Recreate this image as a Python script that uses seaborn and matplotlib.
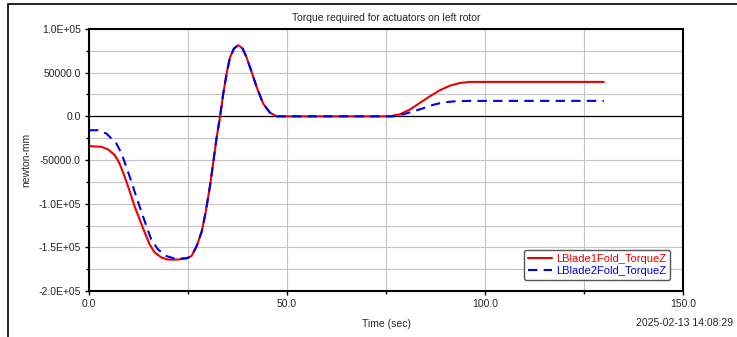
import matplotlib
matplotlib.use('Agg')
import matplotlib.pyplot as plt
from matplotlib.patches import Rectangle
import seaborn as sns
import pandas as pd

# values
time_blade1 = [0.0, 3.1, 4.8, 6.5, 7.7, 9.0, 10.3, 11.5, 12.8, 14.1, 15.3, 16.6,
               18.3, 19.9, 22.5, 24.7, 25.9, 27.2, 28.5, 29.5, 30.6, 31.4, 32.2,
               33.1, 33.9, 34.8, 35.6, 36.6, 37.7, 38.8, 39.8, 41.1, 42.5, 44.0,
               45.7, 47.4, 60.0, 76.0, 78.5, 81.1, 83.6, 86.1, 88.6, 91.2, 93.7,
               96.2, 110.0, 130.0]
torque_blade1 = [-34100, -34900, -37900, -44300, -53800, -69000, -86000, -103000,
                 -118200, -133300, -146600, -156000, -161700, -164000, -164000,
                 -162500, -159900, -148500, -131400, -108700, -78400, -51900,
                 -25300, 0, 25800, 50300, 67400, 77600, 81500, 77600, 67400, 50300,
                 31500, 14400, 4200, 0, 0, 0, 2300, 7900, 15500, 23000, 29900,
                 35200, 38200, 39400, 39400, 39400]

time_blade2 = [0.0, 2.3, 4.4, 6.9, 8.2, 9.4, 10.7, 11.9, 13.2, 14.5, 15.7, 17.4,
               19.5, 21.6, 24.7, 25.9, 27.2, 28.5, 29.5, 30.6, 31.4, 32.2, 33.1,
               33.9, 34.8, 35.6, 36.6, 37.7, 38.8, 39.8, 41.1, 42.5, 44.0, 45.7,
               47.4, 60.0, 76.7, 79.4, 81.9, 84.5, 87.0, 89.5, 92.9, 96.2, 110.0,
               130.0]
torque_blade2 = [-15900, -15900, -19700, -31000, -42400, -57600, -74600, -91700,
                 -108700, -125800, -140900, -152300, -159900, -162900, -162500,
                 -159900, -148500, -131400, -108700, -78400, -51900, -25300, 0,
                 25800, 50300, 67400, 77600, 81500, 77600, 67400, 50300, 31500,
                 14400, 4200, 0, 0, 0, 2300, 5700, 9400, 13300, 16000, 17400,
                 17700, 17700, 17700]

names = ['LBlade1Fold_TorqueZ', 'LBlade2Fold_TorqueZ']
y_ticks = [100000, 50000, 0, -50000, -100000, -150000, -200000]
y_ticklabels = ['1.0E+05', '50000.0', '0.0', '-50000.0', '-1.0E+05', '-1.5E+05', '-2.0E+05']
x_ticks = [0, 50, 100, 150]
x_ticklabels = ['0.0', '50.0', '100.0', '150.0']

df = pd.concat([
    pd.DataFrame({'time': time_blade1, 'torque': torque_blade1, 'signal': names[0]}),
    pd.DataFrame({'time': time_blade2, 'torque': torque_blade2, 'signal': names[1]}),
])

sns.set_theme(style='ticks')
plt.rcParams['font.family'] = ['Liberation Sans', 'DejaVu Sans']
plt.rcParams['font.size'] = 7.5

fig = plt.figure(figsize=(7.37, 3.37), dpi=100)
ax = fig.add_axes([89/737, 1 - 291/337, (683-89)/737, (291-29)/337])

colors = {names[0]: '#ee0000', names[1]: '#0000ee'}
sns.lineplot(data=df, x='time', y='torque', hue='signal', style='signal',
             palette=colors, dashes={names[0]: '', names[1]: (4.5, 3)},
             linewidth=1.5, estimator=None, sort=False, ax=ax)

ax.set_xlim(0, 150)
ax.set_ylim(-200000, 100000)
ax.set_xticks(x_ticks, x_ticklabels)
ax.set_yticks(y_ticks, y_ticklabels)
ax.set_xticks([25, 75, 125], minor=True)
ax.set_yticks([75000, 25000, -25000, -75000, -125000, -175000], minor=True)
ax.tick_params(which='major', length=3, width=1, color='black', labelsize=7.5, pad=3)
ax.tick_params(which='minor', length=2, width=1, color='black')
ax.grid(which='both', color='#c4c4c4', linewidth=0.8)
ax.set_axisbelow(True)
ax.axhline(0, color='black', linewidth=0.9, zorder=1)
for sp in ax.spines.values():
    sp.set_visible(True)
    sp.set_color('black')
    sp.set_linewidth(1.5)

ax.set_title('Torque required for actuators on left rotor', fontsize=7.5, pad=6)
ax.set_xlabel('Time (sec)', fontsize=7.5, labelpad=7)
ax.set_ylabel('newton-mm', fontsize=7.5, labelpad=5)

leg = ax.legend(loc='lower right', bbox_to_anchor=(0.987, 0.022), fontsize=8,
                handlelength=2.2, handletextpad=0.35, borderpad=0.35,
                labelspacing=0.2, frameon=True, fancybox=True)
for txt in leg.get_texts():
    txt.set_color(colors[txt.get_text()])
leg.get_frame().set_edgecolor('#555555')
leg.get_frame().set_linewidth(1.0)
leg.get_frame().set_alpha(1.0)

fig.text(733/737, 1 - 323/337, '2025-02-13 14:08:29', ha='right', va='center', fontsize=7.5)
fig.patches.append(Rectangle((8/737, -0.1), 1.0, 1 - 4/337 + 0.1, transform=fig.transFigure,
                             fill=False, edgecolor='black', linewidth=1.2))

fig.savefig('out.png', dpi=100)
